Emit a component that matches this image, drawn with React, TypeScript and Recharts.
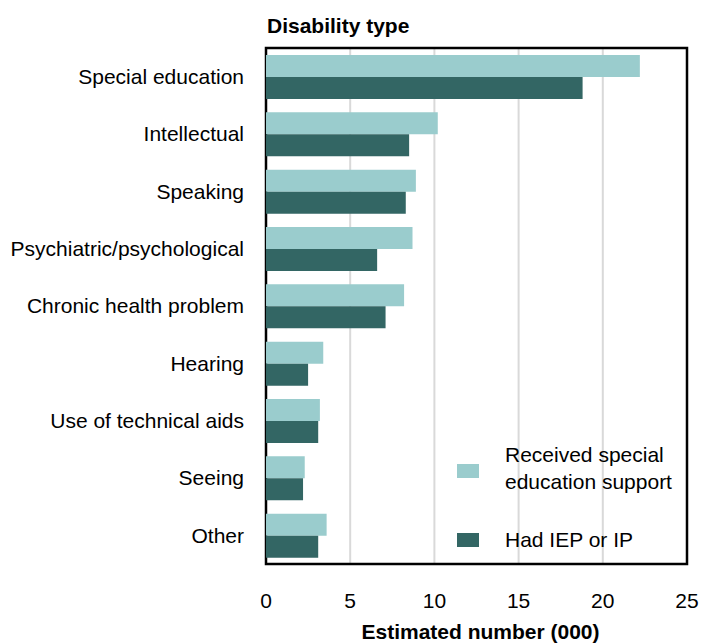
import React from 'react';
import { BarChart, Bar, XAxis, YAxis, CartesianGrid, ReferenceArea } from 'recharts';

// Disability types, top to bottom
const categories = [
  'Special education',
  'Intellectual',
  'Speaking',
  'Psychiatric/psychological',
  'Chronic health problem',
  'Hearing',
  'Use of technical aids',
  'Seeing',
  'Other',
];

// Estimated number (000)
const receivedSupport = [22.2, 10.2, 8.9, 8.7, 8.2, 3.4, 3.2, 2.3, 3.6];
const hadIep = [18.8, 8.5, 8.3, 6.6, 7.1, 2.5, 3.1, 2.2, 3.1];

const xTicks = [0, 5, 10, 15, 20, 25];

const LIGHT = '#9ACCCD';
const DARK = '#336664';
const FONT = '"Liberation Sans", Arial, sans-serif';

const data = categories.map((name, i) => ({
  name,
  received: receivedSupport[i],
  iep: hadIep[i],
}));

// legend drawn as an overlay so it doesn't eat into the plot area
const ChartLegend = () => (
  <div
    style={{
      position: 'absolute',
      left: 457,
      top: 441,
      width: 230,
      height: 120,
      fontSize: 21,
      color: '#000',
    }}
  >
    <div style={{ position: 'absolute', left: 0, top: 23, width: 22, height: 14, background: LIGHT }} />
    <div style={{ position: 'absolute', left: 48, top: 0, width: 178, lineHeight: '27px' }}>
      Received special education support
    </div>
    <div style={{ position: 'absolute', left: 0, top: 92, width: 22, height: 14, background: DARK }} />
    <div style={{ position: 'absolute', left: 48, top: 85, lineHeight: '27px', whiteSpace: 'nowrap' }}>
      Had IEP or IP
    </div>
  </div>
);

export default function App() {
  return (
    <div style={{ position: 'absolute', left: 0, top: 0, width: 702, height: 643, background: '#fff', fontFamily: FONT }}>
      <div
        style={{
          position: 'absolute',
          left: 267,
          top: 14.7,
          fontSize: 21,
          lineHeight: '21px',
          fontWeight: 'bold',
          color: '#000',
        }}
      >
        Disability type
      </div>
      <BarChart
        width={702}
        height={643}
        data={data}
        layout="vertical"
        margin={{ top: 48, right: 15, bottom: 0, left: 0 }}
        barGap={0}
        barSize={22}
      >
        <CartesianGrid horizontal={false} stroke="#d9d9d9" strokeWidth={2} />
        <XAxis
          type="number"
          domain={[0, 25]}
          ticks={xTicks}
          axisLine={false}
          tickLine={false}
          tickSize={0}
          tickMargin={29}
          height={79}
          tick={{ fontSize: 21, fill: '#000', fontFamily: FONT }}
          label={{
            value: 'Estimated number (000)',
            position: 'insideBottom',
            offset: 4,
            dx: 4,
            style: { fontSize: 21, fontWeight: 'bold', fill: '#000', fontFamily: FONT },
          }}
        />
        <YAxis
          type="category"
          dataKey="name"
          width={266}
          axisLine={false}
          tickLine={false}
          tickSize={0}
          tickMargin={22}
          interval={0}
          tick={{ fontSize: 21, fill: '#000', fontFamily: FONT }}
        />
        <Bar dataKey="received" name="Received special education support" fill={LIGHT} isAnimationActive={false} />
        <Bar dataKey="iep" name="Had IEP or IP" fill={DARK} isAnimationActive={false} />
        <ReferenceArea x1={0} x2={25} fill="none" stroke="#000" strokeWidth={2.5} ifOverflow="visible" />
      </BarChart>
      <ChartLegend />
    </div>
  );
}
